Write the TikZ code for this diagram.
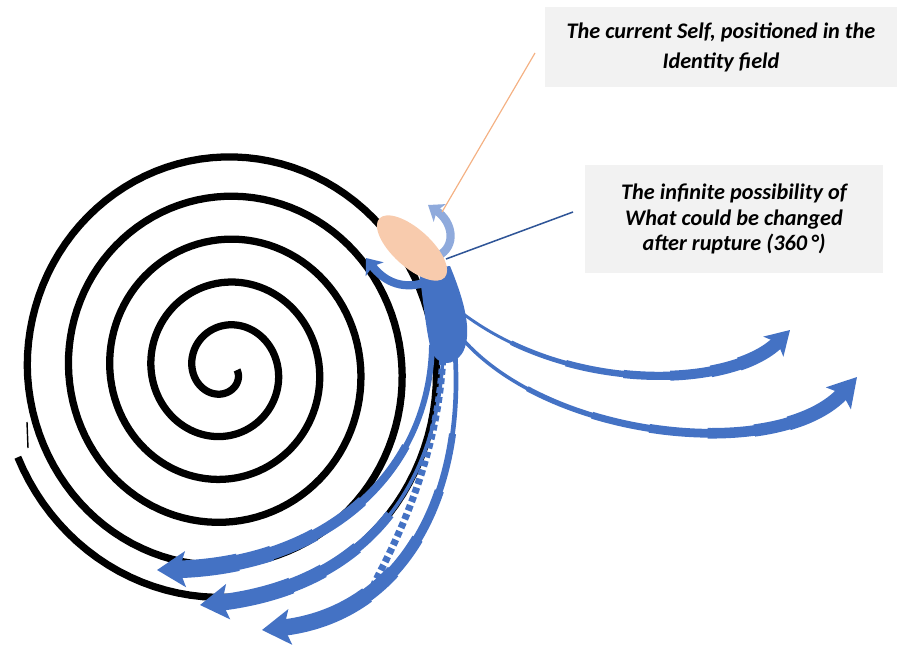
\documentclass[tikz,border=0pt]{standalone}
\usepackage{fontspec}
\setmainfont{Carlito}
\usetikzlibrary{arrows.meta,shapes.geometric}
\definecolor{cblue}{RGB}{68,114,196}
\definecolor{clight}{RGB}{143,170,220}
\definecolor{cdark}{RGB}{47,85,151}
\definecolor{cpeach}{RGB}{248,203,173}
\definecolor{corange}{RGB}{244,177,131}
\definecolor{cbox}{RGB}{242,242,242}

\begin{document}
\begin{tikzpicture}[x=0.03cm, y=-0.03cm,
    spiral/.style={black, line width=6.2pt, line join=round},
    branch/.style={cblue, line cap=butt},
    bighead/.style 2 args={-{Stealth[length=#1,width=#2,inset=5pt]}},
    layer/.style 2 args={line width=#1, dash pattern=on 2000pt off #2, dash phase=2000pt},
    callout/.style={fill=cbox, align=center, inner sep=0pt,
      font=\fontsize{19}{25.5}\selectfont\bfseries\itshape}]
  \useasboundingbox (0,0) rectangle (897,649);

  % the spiral
  \draw[spiral] plot[domain=0:1958, samples=600, variable=\t]
    ({225+0.96*(12.5+0.1194*\t-0.04*max(0,\t-1620))*cos(\t)},
     {370+(12.5+0.1194*\t-0.04*max(0,\t-1620))*sin(\t)});
  \draw[black, line width=1.2pt] (27,422) -- (28,448);

  % ends of the branches
  \coordinate (rootR1) at (452,305);
  \coordinate (rootR2) at (455,330);
  \coordinate (rootA) at (432,345);
  \coordinate (rootB) at (443,350);
  \coordinate (rootC) at (455,352);
  \coordinate (tipR1) at (790,330);
  \coordinate (tipR2) at (857,377);
  \coordinate (tipA) at (157,570);
  \coordinate (tipB) at (200,605);
  \coordinate (tipC) at (262,630);

  % trunk under the Self
  \fill[cblue] (419,270) .. controls (423,300) and (426,330) .. (431,350)
    .. controls (437,366) and (453,368) .. (463,352)
    .. controls (473,332) and (464,300) .. (450,266) -- cycle;

  % branches to the right
  \foreach \w/\s in {4pt/60pt,5.5pt/110pt,7pt/160pt,8.5pt/200pt,10pt/235pt,11.5pt/260pt}
    \draw[branch, layer={\w}{\s}, shorten >=14pt]
      (rootR1) .. controls (560,395) and (730,390) .. (tipR1);
  \draw[branch, line width=2.5pt, bighead={20pt}{24pt}]
    (rootR1) .. controls (560,395) and (730,390) .. (tipR1);
  \foreach \w/\s in {4.5pt/80pt,6pt/140pt,7.5pt/190pt,9pt/240pt,10.5pt/280pt,12pt/310pt}
    \draw[branch, layer={\w}{\s}, shorten >=16pt]
      (rootR2) .. controls (540,440) and (780,465) .. (tipR2);
  \draw[branch, line width=3pt, bighead={24pt}{28pt}]
    (rootR2) .. controls (540,440) and (780,465) .. (tipR2);

  % branches down the spiral
  \foreach \w/\s in {7pt/90pt,9pt/150pt,11pt/200pt,13pt/240pt,15pt/270pt}
    \draw[branch, layer={\w}{\s}, shorten >=16pt]
      (rootA) .. controls (430,470) and (330,565) .. (tipA);
  \draw[branch, line width=5pt, bighead={24pt}{30pt}]
    (rootA) .. controls (430,470) and (330,565) .. (tipA);
  \draw[branch, line width=6pt, dash pattern=on 5pt off 3pt, shorten >=150pt]
    (rootB) .. controls (440,480) and (370,585) .. (tipB);
  \foreach \w/\s in {8pt/150pt,10pt/190pt,12pt/225pt,14pt/255pt}
    \draw[branch, layer={\w}{\s}, shorten >=16pt]
      (rootB) .. controls (440,480) and (370,585) .. (tipB);
  \draw[branch, line width=3pt, bighead={24pt}{30pt}]
    (rootB) .. controls (440,480) and (370,585) .. (tipB);
  \foreach \w/\s in {6pt/70pt,8pt/120pt,10pt/165pt,12pt/200pt,14pt/230pt}
    \draw[branch, layer={\w}{\s}, shorten >=16pt]
      (rootC) .. controls (465,500) and (400,615) .. (tipC);
  \draw[branch, line width=4pt, bighead={24pt}{30pt}]
    (rootC) .. controls (465,500) and (400,615) .. (tipC);

  % small turning arrows round the Self
  \coordinate (lightstart) at (438,256);
  \coordinate (lighttip) at (428,205);
  \coordinate (darkstart) at (424,283);
  \coordinate (darktip) at (366,258);
  \draw[clight, line width=7pt, -{Stealth[length=12pt,width=18pt,inset=3pt]}]
    (lightstart) .. controls (457,246) and (453,222) .. (lighttip);
  \draw[cblue, line width=7pt, -{Stealth[length=12pt,width=19pt,inset=3pt]}]
    (darkstart) .. controls (400,290) and (383,280) .. (darktip);

  % the Self
  \node[ellipse, fill=cpeach, minimum width=2.64cm, minimum height=1.14cm,
    inner sep=0pt, rotate=-42] (self) at (412,248) {};

  % callouts
  \node[callout, minimum width=10.56cm, minimum height=2.4cm] (selfbox) at (721,47)
    {The current Self, positioned in the\\Identity field};
  \node[callout, font=\fontsize{19}{22}\selectfont\bfseries\itshape,
    minimum width=8.94cm, minimum height=3.24cm] (changebox) at (734,219)
    {The infinite possibility of\\What could be changed\\after rupture (360\,°)};
  \coordinate (selftop) at (442,212);
  \coordinate (selfend) at (535,53);
  \coordinate (selfside) at (446,259);
  \coordinate (changeend) at (573,212);
  \draw[corange, line width=1pt] (selftop) -- (selfend);
  \draw[cdark, line width=1.3pt] (selfside) -- (changeend);
\end{tikzpicture}
\end{document}
